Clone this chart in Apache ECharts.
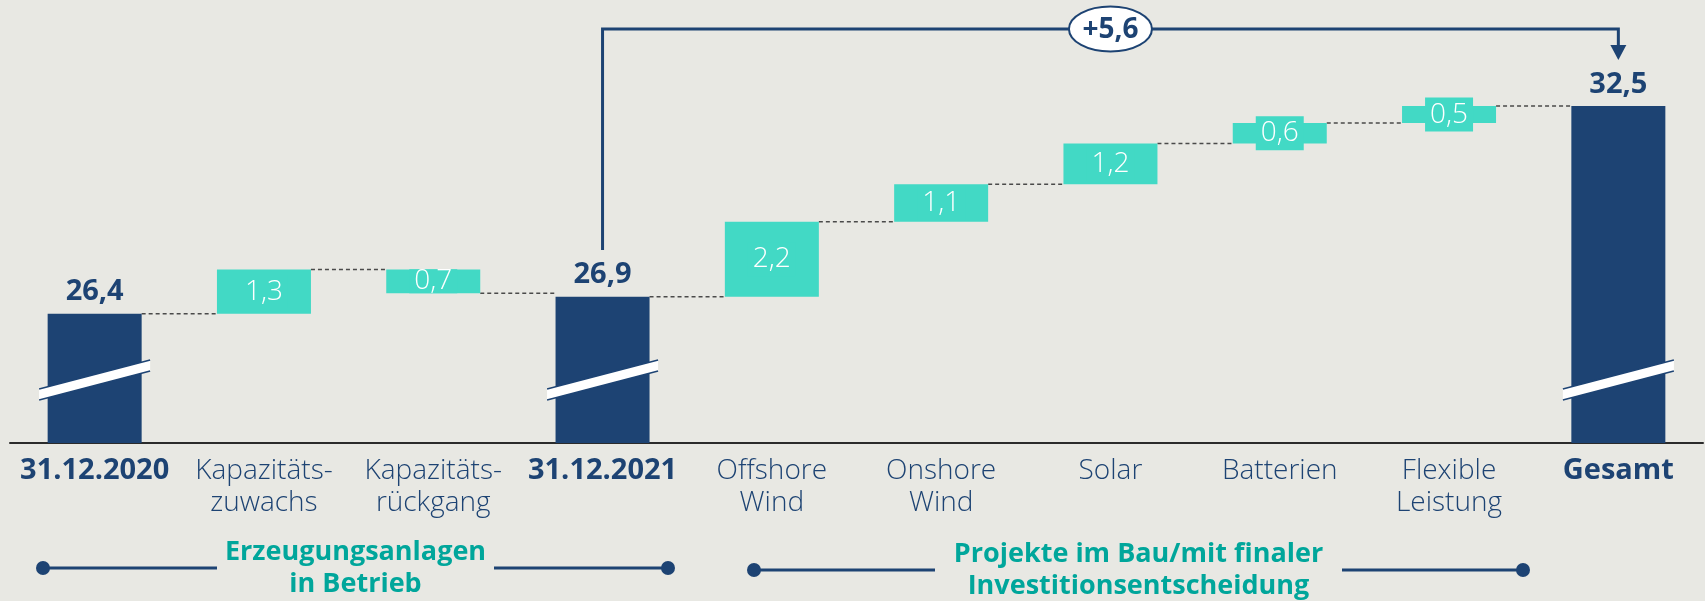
<!DOCTYPE html>
<html>
<head>
<meta charset="utf-8">
<script src="https://cdn.jsdelivr.net/npm/echarts@6/dist/echarts.min.js"></script>
<style>
  html, body { margin: 0; padding: 0; background: #e8e8e3; }
  #chart { width: 1705px; height: 601px; }
</style>
</head>
<body>
<div id="chart"></div>
<script>
'use strict';

// Kategorien und Werte (GW)
var categories = ['31.12.2020', 'Kapazitäts-\nzuwachs', 'Kapazitäts-\nrückgang', '31.12.2021',
    'Offshore\nWind', 'Onshore\nWind', 'Solar', 'Batterien', 'Flexible\nLeistung', 'Gesamt'];
var kinds = ['total', 'delta', 'delta', 'total', 'delta', 'delta', 'delta', 'delta', 'delta', 'total'];
var values = [26.4, 1.3, -0.7, 26.9, 2.2, 1.1, 1.2, 0.6, 0.5, 32.5];
var diffLabel = '+5,6';
var groups = [
    { text: 'Erzeugungsanlagen\nin Betrieb' },
    { text: 'Projekte im Bau/mit finaler\nInvestitionsentscheidung' }
];

var DARK = '#1d4373';
var TEAL = '#42d9c5';
var GREEN_TXT = '#00a69b';
var FONT = '"Open Sans", Lato, sans-serif';
var BAR_W = 94;
var Y_MIN = 22.6;

function fmt(v) {
    return String(Math.abs(v)).replace('.', ',');
}

// Wasserfall: Hilfsreihe + Summen + Veränderungen
var helper = [], totalBars = [], deltaBars = [], ends = [];
var level = 0;
for (var i = 0; i < values.length; i++) {
    var v = values[i];
    if (kinds[i] === 'total') {
        level = v;
        helper.push(0);
        totalBars.push(v);
        deltaBars.push('-');
    } else {
        var start = level;
        var end = +(level + v).toFixed(1);
        helper.push(Math.min(start, end));
        // Rückgang: Beschriftung ohne Überstand
        deltaBars.push(v < 0 ? { value: Math.abs(v), label: { padding: [0, 5], lineHeight: 24 } } : Math.abs(v));
        totalBars.push('-');
        level = end;
    }
    ends.push(level);
}
var connectors = [];
for (var j = 0; j < ends.length - 1; j++) {
    connectors.push([j, ends[j]]);
}
var breaks = [];
for (var k = 0; k < kinds.length; k++) {
    if (kinds[k] === 'total') breaks.push([k, Y_MIN]);
}

var myChart = echarts.init(document.getElementById('chart'));

var option = {
    backgroundColor: '#e8e8e3',
    animation: false,
    grid: { left: 10, right: 2, top: 55, bottom: 158 },
    xAxis: {
        type: 'category',
        data: categories,
        axisLine: { show: true, lineStyle: { color: '#2b2b2b', width: 2 } },
        axisTick: { show: false },
        axisLabel: {
            interval: 0,
            margin: 12,
            color: DARK,
            fontFamily: FONT,
            fontWeight: 300,
            fontSize: 28,
            lineHeight: 32,
            formatter: function (val, idx) {
                return kinds[idx] === 'total' ? '{b|' + val + '}' : val;
            },
            rich: {
                b: { fontFamily: FONT, fontWeight: 'bold', fontSize: 29, lineHeight: 32, color: DARK }
            }
        }
    },
    yAxis: {
        type: 'value',
        min: Y_MIN,
        max: 34,
        show: false,
        splitLine: { show: false }
    },
    series: [
        {
            name: 'helper',
            type: 'bar',
            stack: 'wf',
            barWidth: BAR_W,
            silent: true,
            clip: true,
            itemStyle: { color: 'transparent' },
            data: helper
        },
        {
            name: 'Summe',
            type: 'bar',
            stack: 'wf',
            barWidth: BAR_W,
            clip: true,
            itemStyle: { color: DARK },
            label: {
                show: true,
                position: 'top',
                distance: 7,
                color: DARK,
                fontFamily: FONT,
                fontWeight: 'bold',
                fontSize: 29,
                formatter: function (p) { return fmt(p.value); }
            },
            data: totalBars
        },
        {
            name: 'Veränderung',
            type: 'bar',
            stack: 'wf',
            barWidth: BAR_W,
            clip: true,
            itemStyle: { color: TEAL },
            label: {
                show: true,
                position: 'inside',
                color: '#fff',
                fontFamily: FONT,
                fontWeight: 300,
                fontSize: 28,
                lineHeight: 28,
                backgroundColor: TEAL,
                padding: [3, 5],
                formatter: function (p) { return fmt(values[p.dataIndex]); }
            },
            data: deltaBars
        },
        {
            // gestrichelte Verbindungslinien
            type: 'custom',
            silent: true,
            z: 1,
            encode: { x: 0, y: 1 },
            renderItem: function (params, api) {
                var idx = api.value(0);
                var y = api.value(1);
                var p = api.coord([idx, y]);
                var q = api.coord([idx + 1, y]);
                return {
                    type: 'line',
                    shape: { x1: p[0] + BAR_W / 2, y1: p[1], x2: q[0] - BAR_W / 2, y2: q[1] },
                    style: { stroke: '#4a4a4a', lineWidth: 1.5, lineDash: [4, 3] }
                };
            },
            data: connectors
        },
        {
            // Achsenbruch-Markierung
            type: 'custom',
            silent: true,
            clip: false,
            z: 5,
            encode: { x: 0, y: 1 },
            renderItem: function (params, api) {
                var p = api.coord([api.value(0), api.value(1)]);
                var cx = p[0], cy = p[1] - 63;
                var hw = BAR_W / 2 + 8.5, dy = 14.5, t = 5.5;
                return {
                    type: 'group',
                    children: [
                        {
                            type: 'polygon',
                            shape: { points: [[cx - hw, cy + dy - t], [cx + hw, cy - dy - t], [cx + hw, cy - dy + t], [cx - hw, cy + dy + t]] },
                            style: { fill: '#fff' }
                        },
                        {
                            type: 'line',
                            shape: { x1: cx - hw, y1: cy + dy - t, x2: cx + hw, y2: cy - dy - t },
                            style: { stroke: DARK, lineWidth: 1.5 }
                        },
                        {
                            type: 'line',
                            shape: { x1: cx - hw, y1: cy + dy + t, x2: cx + hw, y2: cy - dy + t },
                            style: { stroke: DARK, lineWidth: 1.5 }
                        }
                    ]
                };
            },
            data: breaks
        }
    ]
};
myChart.setOption(option);

// Klammer oben (+5,6) und Gruppenbeschriftungen unten
var xA = myChart.convertToPixel({ xAxisIndex: 0 }, 3);
var xB = myChart.convertToPixel({ xAxisIndex: 0 }, 9);
var xM = (xA + xB) / 2;
var topY = 29;

function groupBracket(x1, x2, gapL, gapR, ty, txt) {
    var mid = (x1 + x2) / 2;
    return [
        { type: 'line', shape: { x1: x1, y1: ty, x2: gapL, y2: ty }, style: { stroke: DARK, lineWidth: 3 } },
        { type: 'line', shape: { x1: gapR, y1: ty, x2: x2, y2: ty }, style: { stroke: DARK, lineWidth: 3 } },
        { type: 'circle', shape: { cx: x1, cy: ty, r: 7 }, style: { fill: DARK } },
        { type: 'circle', shape: { cx: x2, cy: ty, r: 7 }, style: { fill: DARK } },
        {
            type: 'text', x: mid, y: ty,
            style: {
                text: txt, fill: GREEN_TXT, fontFamily: FONT, fontWeight: 'bold', fontSize: 27,
                lineHeight: 32, align: 'center', verticalAlign: 'middle'
            }
        }
    ];
}

var g1 = groupBracket(43, 668, 217, 494, 568, groups[0].text);
var g2 = groupBracket(754, 1523, 935, 1342, 570, groups[1].text);

myChart.setOption({
    graphic: [
        {
            type: 'polyline',
            shape: { points: [[xA, 250], [xA, topY], [xB, topY], [xB, 47]] },
            style: { stroke: DARK, lineWidth: 3, fill: null }
        },
        {
            type: 'polygon',
            shape: { points: [[xB - 8, 45], [xB + 8, 45], [xB, 60]] },
            style: { fill: DARK }
        },
        {
            type: 'ellipse',
            shape: { cx: xM, cy: topY, rx: 41.5, ry: 22.5 },
            style: { fill: '#fff', stroke: DARK, lineWidth: 2 }
        },
        {
            type: 'text', x: xM, y: topY + 1,
            style: {
                text: diffLabel, fill: DARK, fontFamily: FONT, fontWeight: 'bold', fontSize: 28,
                align: 'center', verticalAlign: 'middle'
            }
        }
    ].concat(g1, g2)
});
</script>
</body>
</html>
